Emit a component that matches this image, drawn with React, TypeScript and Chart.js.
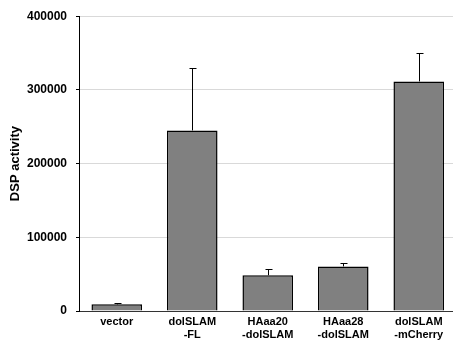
import React, { useEffect, useRef } from "react";
import { Chart, registerables } from "chart.js";

Chart.register(...registerables);

const categories: string[][] = [
  ["vector"],
  ["dolSLAM", "-FL"],
  ["HAaa20", "-dolSLAM"],
  ["HAaa28", "-dolSLAM"],
  ["dolSLAM", "-mCherry"],
];
const dspActivity: number[] = [9000, 245000, 48500, 60500, 311500];
const dspError: number[] = [2500, 85000, 8500, 4500, 39000];
const yTicks: number[] = [0, 100000, 200000, 300000, 400000];

const FONT = "'Liberation Sans', Arial, sans-serif";

const errorBarPlugin = {
  id: "errorBars",
  afterDatasetsDraw(chart: any) {
    const ctx = chart.ctx;
    const xs = chart.scales.x;
    const ys = chart.scales.y;
    ctx.save();
    ctx.strokeStyle = "#000";
    ctx.lineWidth = 1;
    dspActivity.forEach((v, i) => {
      const x = Math.round(xs.getPixelForValue(i)) + 0.5;
      const y0 = ys.getPixelForValue(v);
      const y1 = Math.round(ys.getPixelForValue(v + dspError[i])) + 0.5;
      ctx.beginPath();
      ctx.moveTo(x, y0);
      ctx.lineTo(x, y1);
      ctx.moveTo(x - 3, y1);
      ctx.lineTo(x + 4, y1);
      ctx.stroke();
    });
    ctx.restore();
  },
};

export default function App() {
  const ref = useRef<HTMLCanvasElement | null>(null);
  useEffect(() => {
    if (!ref.current) return;
    const chart = new Chart(ref.current, {
      type: "bar",
      data: {
        labels: categories,
        datasets: [
          {
            data: dspActivity,
            backgroundColor: "#808080",
            borderColor: "#000",
            borderWidth: 1.5,
            categoryPercentage: 1,
            barPercentage: 0.67,
          },
        ],
      },
      options: {
        animation: false,
        responsive: false,
        layout: { padding: { top: 15, right: 3.5, left: 0, bottom: 0 } },
        plugins: { legend: { display: false }, tooltip: { enabled: false } },
        scales: {
          x: {
            grid: { display: false, drawTicks: false },
            border: { color: "#333", width: 1 },
            ticks: {
              color: "#000",
              padding: 5,
              maxRotation: 0,
              autoSkip: false,
              font: { family: FONT, size: 11, weight: "bold", lineHeight: 1.14 },
            },
            afterFit(scale: any) {
              scale.height = 33;
            },
          },
          y: {
            min: 0,
            max: 400000,
            afterBuildTicks(scale: any) {
              scale.ticks = yTicks.map((v) => ({ value: v }));
            },
            grid: { color: "#d9d9d9", tickColor: "#000", tickLength: 3, lineWidth: 1 },
            border: { color: "#000", width: 1 },
            ticks: {
              color: "#000",
              padding: 9,
              callback: (v: any) => String(v),
              font: { family: FONT, size: 12, weight: "bold" },
            },
            title: {
              display: true,
              text: "DSP activity",
              color: "#000",
              padding: { top: 8, bottom: 0 },
              font: { family: FONT, size: 13, weight: "bold" },
            },
            afterFit(scale: any) {
              scale.width = 79;
            },
          },
        },
      },
      plugins: [errorBarPlugin],
    });
    return () => chart.destroy();
  }, []);
  return (
    <div style={{ position: "fixed", left: 0, top: 0, width: 453, height: 344, overflow: "hidden", background: "#fff" }}>
      <canvas ref={ref} width={460} height={344} style={{ display: "block" }} />
    </div>
  );
}
